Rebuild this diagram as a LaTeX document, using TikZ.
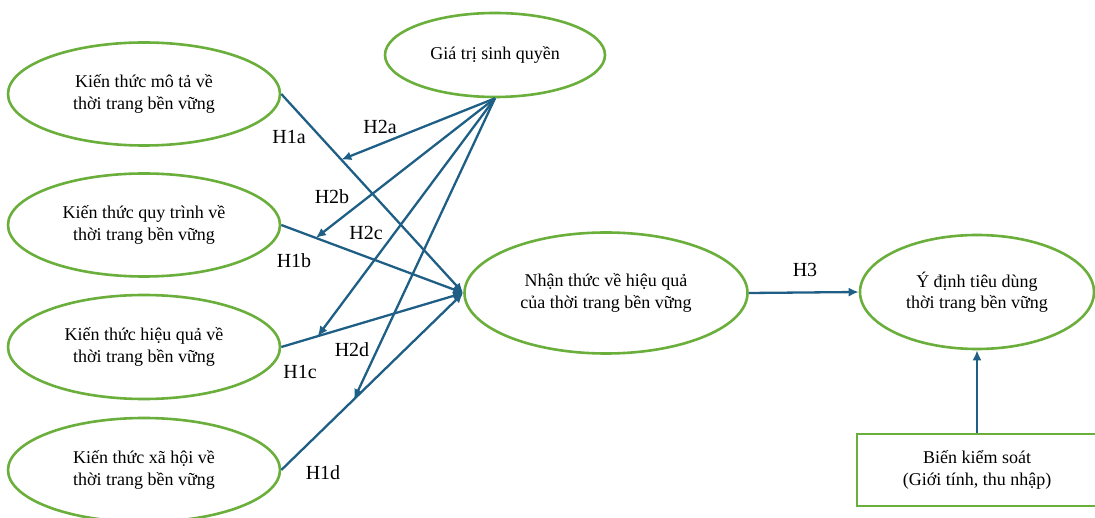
\documentclass[tikz,border=0pt]{standalone}
\usepackage{fontspec}
\setmainfont{Liberation Serif}
\usetikzlibrary{shapes.geometric,arrows.meta,calc}
\definecolor{grn}{HTML}{6AAE3C}
\definecolor{blu}{HTML}{1F5F86}
\tikzset{
  oval/.style={ellipse, draw=grn, line width=2.6pt, inner sep=0pt, align=center,
    font=\fontsize{18}{21.5}\selectfont},
  sq/.style={rectangle, draw=grn, line width=2.6pt, inner sep=0pt, align=center,
    font=\fontsize{18}{22}\selectfont},
  arr/.style={draw=blu, line width=2.3pt, -{Latex[length=10pt,width=9pt]}},
  lbl/.style={font=\fontsize{20}{22}\selectfont, inner sep=0pt}
}
\begin{document}
\begin{tikzpicture}[x=1pt,y=-1pt]
\useasboundingbox (0,0) rectangle (1095,518);
% nodes
\node[oval, minimum width=272pt, minimum height=103pt] (k1) at (144,94) {Kiến thức mô tả về\\thời trang bền vững};
\node[oval, minimum width=272pt, minimum height=103pt] (k2) at (144,225) {Kiến thức quy trình về\\thời trang bền vững};
\node[oval, minimum width=272pt, minimum height=104pt] (k3) at (144,347) {Kiến thức hiệu quả về\\thời trang bền vững};
\node[oval, minimum width=272pt, minimum height=104pt] (k4) at (144,470) {Kiến thức xã hội về\\thời trang bền vững};
\node[oval, minimum width=220pt, minimum height=84pt] (g) at (495,55) {Giá trị sinh quyền};
\node[oval, minimum width=283pt, minimum height=121pt] (n) at (606,293) {Nhận thức về hiệu quả\\của thời trang bền vững};
\node[oval, minimum width=234pt, minimum height=114pt] (y) at (977,292) {Ý định tiêu dùng\\thời trang bền vững};
\node[sq, minimum width=240pt, minimum height=72pt] (b) at (977,470) {Biến kiểm soát\\(Giới tính, thu nhập)};
% moderation points on H1 paths
\coordinate (m1) at ($(k1.east)!0.33!(n.west)$);
\coordinate (m2) at ($(k2.east)!0.19!(n.west)$);
\coordinate (m3) at ($(k3.east)!0.20!(n.west)$);
\coordinate (m4) at ($(k4.east)!0.40!(n.west)$);
% H1 paths
\draw[arr] (k1.east) -- (n.west);
\draw[arr] (k2.east) -- (n.west);
\draw[arr] (k3.east) -- (n.west);
\draw[arr] (k4.east) -- (n.west);
% H2 paths
\draw[arr] (g.south) -- (m1);
\draw[arr] (g.south) -- (m2);
\draw[arr] (g.south) -- (m3);
\draw[arr] (g.south) -- (m4);
% H3 and control
\draw[arr] (n.east) -- (y.west);
\draw[arr] (b.north) -- (y.south);
% labels
\node[lbl] (l1a) at (289,137) {H1a};
\node[lbl] (l2a) at (380,127) {H2a};
\node[lbl] (l2b) at (332,197) {H2b};
\node[lbl] (l2c) at (366,233) {H2c};
\node[lbl] (l1b) at (294,261) {H1b};
\node[lbl] (l2d) at (352,350) {H2d};
\node[lbl] (l1c) at (300,372) {H1c};
\node[lbl] (l1d) at (323,473) {H1d};
\node[lbl] (l3) at (805,270) {H3};
\end{tikzpicture}
\end{document}
